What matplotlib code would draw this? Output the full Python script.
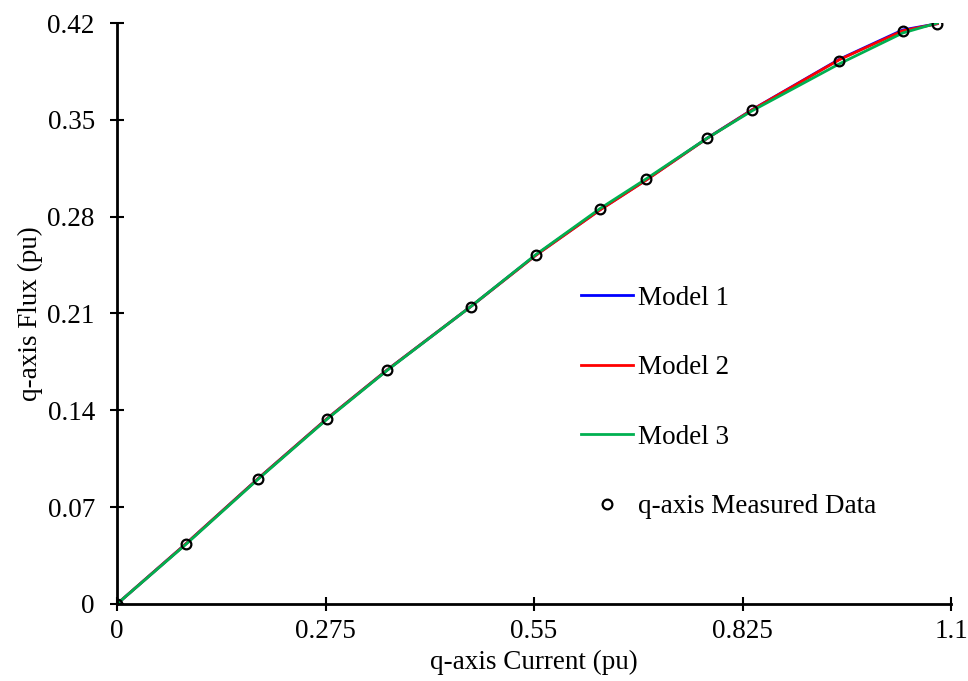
import matplotlib
matplotlib.use("Agg")
import matplotlib.pyplot as plt

# q-axis measured flux linkage vs current (per unit)
current = [0.0, 0.091, 0.186, 0.2774, 0.3565, 0.4665, 0.5522, 0.6374, 0.6981,
           0.7782, 0.8375, 0.9527, 1.0363, 1.0819]
flux_measured = [0.0, 0.0434, 0.0904, 0.134, 0.1692, 0.2149, 0.2523, 0.2858,
                 0.3072, 0.3369, 0.3571, 0.3928, 0.4142, 0.4195]

# fitted model outputs at the same currents
flux_model1 = [0.0, 0.0436, 0.0906, 0.1342, 0.1693, 0.2150, 0.2522, 0.2852,
               0.3067, 0.3367, 0.3573, 0.3938, 0.4150, 0.4195]
flux_model2 = [0.0, 0.0436, 0.0906, 0.1342, 0.1693, 0.2150, 0.2520, 0.2850,
               0.3065, 0.3366, 0.3572, 0.3935, 0.4144, 0.4195]
flux_model3 = [0.0, 0.0432, 0.0902, 0.1338, 0.1690, 0.2150, 0.2525, 0.2860,
               0.3074, 0.3367, 0.3565, 0.3905, 0.4128, 0.4200]

plt.rcParams['font.family'] = ['Liberation Serif', 'DejaVu Serif']
plt.rcParams['font.size'] = 19.5

fig = plt.figure(figsize=(9.68, 6.81), dpi=100)
ax = fig.add_axes([0.1209, 0.1131, 0.8616, 0.8531])

ax.plot(current, flux_model1, color='#0000FF', lw=2, label='Model 1')
ax.plot(current, flux_model2, color='#FF0000', lw=2, label='Model 2')
ax.plot(current, flux_model3, color='#00B050', lw=2, label='Model 3')
ax.plot(current, flux_measured, 'o', ms=7, mfc='none', mec='black', mew=1.6,
        label='q-axis Measured Data')

ax.set_xlim(0, 1.1)
ax.set_ylim(0, 0.42)
ax.set_xticks([0, 0.275, 0.55, 0.825, 1.1])
ax.set_xticklabels(['0', '0.275', '0.55', '0.825', '1.1'])
ax.set_yticks([0, 0.07, 0.14, 0.21, 0.28, 0.35, 0.42])
ax.set_yticklabels(['0', '0.07', '0.14', '0.21', '0.28', '0.35', '0.42'])

for side in ['top', 'right']:
    ax.spines[side].set_visible(False)
for side in ['left', 'bottom']:
    ax.spines[side].set_linewidth(2)

ax.tick_params(axis='both', direction='inout', length=10, width=1.5)
ax.tick_params(axis='y', pad=11)
ax.tick_params(axis='x', pad=6)

ax.set_xlabel('q-axis Current (pu)', labelpad=4)
ax.set_ylabel('q-axis Flux (pu)', labelpad=3)

ax.legend(loc='center left', bbox_to_anchor=(0.556, 0.347), frameon=False,
          labelspacing=1.64, handlelength=1.92, handletextpad=0.2,
          borderpad=0, borderaxespad=0)

fig.savefig('out.png', dpi=100)
